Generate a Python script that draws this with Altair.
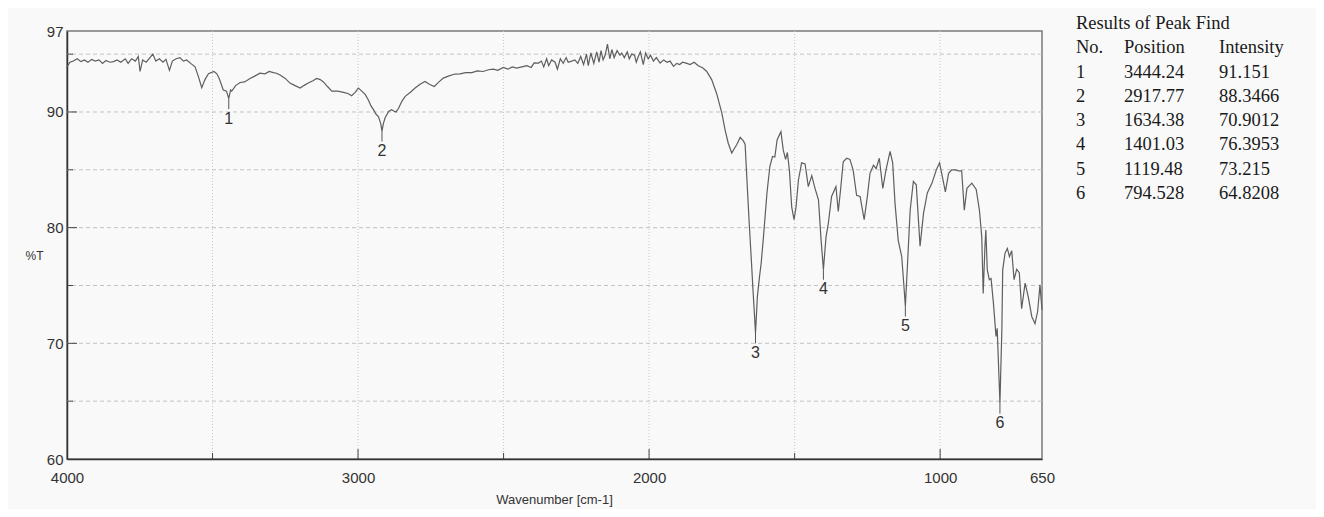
import altair as alt
import pandas as pd

# ---- spectrum ----
wavenumber = [
    4000, 3990, 3978, 3965, 3952, 3940, 3928, 3915, 3903, 3890,
    3878, 3866, 3853, 3840, 3828, 3815, 3800, 3790, 3778, 3765,
    3755, 3749, 3740, 3728, 3715, 3705, 3695, 3683, 3670, 3660,
    3648, 3638, 3625, 3612, 3600, 3589, 3575, 3560, 3549, 3537,
    3526, 3514, 3495, 3485, 3477, 3463, 3452, 3444.24, 3438, 3434,
    3420, 3405, 3390, 3371, 3355, 3337, 3320, 3305, 3291, 3280,
    3268, 3250, 3234, 3218, 3199, 3185, 3171, 3155, 3142, 3130,
    3119, 3105, 3090, 3070, 3050, 3035, 3022, 3010, 2999, 2987,
    2975, 2965, 2955, 2947, 2938, 2930, 2922, 2917.77, 2913, 2907,
    2895, 2885, 2879, 2870, 2861, 2850, 2838, 2820, 2804, 2787,
    2770, 2755, 2738, 2722, 2707, 2690, 2667, 2650, 2630, 2609,
    2590, 2570, 2552, 2535, 2520, 2501, 2485, 2470, 2455, 2437,
    2420, 2405, 2395, 2380, 2370, 2362, 2352, 2345, 2335, 2323,
    2315, 2305, 2295, 2285, 2278, 2266, 2255, 2245, 2235, 2225,
    2215, 2209, 2200, 2190, 2180, 2172, 2165, 2158, 2151, 2143,
    2135, 2128, 2120, 2110, 2100, 2094, 2085, 2075, 2068, 2060,
    2050, 2044, 2037, 2030, 2020, 2012, 2003, 1995, 1985, 1975,
    1962, 1950, 1938, 1928, 1916, 1905, 1895, 1885, 1870, 1859,
    1845, 1831, 1815, 1802, 1785, 1768, 1750, 1739, 1728, 1716,
    1708, 1699, 1687, 1676, 1670, 1665, 1656, 1648, 1643, 1638,
    1634.38, 1630, 1628, 1620, 1615, 1607, 1595, 1585, 1576, 1568,
    1560, 1547, 1539, 1531, 1525, 1518, 1510, 1502, 1495, 1487,
    1476, 1464, 1453, 1441, 1430, 1418, 1409, 1401.03, 1392, 1384,
    1373, 1358, 1350, 1342, 1333, 1321, 1310, 1299, 1287, 1275,
    1261, 1250, 1241, 1229, 1220, 1209, 1197, 1186, 1172, 1163,
    1155, 1144, 1132, 1126, 1119.48, 1112, 1103, 1092, 1082, 1069,
    1057, 1044, 1028, 1013, 1002, 990, 982, 971, 960, 948,
    936, 926, 917, 908, 891, 876, 865, 857, 852, 846,
    843, 838, 831, 825, 817, 808, 804, 794.528, 788, 785,
    777, 769, 762, 754, 746, 737, 728, 720, 708, 697,
    685, 674, 665, 657, 650,
]
transmittance = [
    93.9, 94.3, 94.4, 94.6, 94.35, 94.5, 94.3, 94.55, 94.4, 94.5,
    94.2, 94.45, 94.3, 94.35, 94.5, 94.3, 94.6, 94.2, 94.6, 94.4,
    94.8, 93.5, 94.5, 94.3, 94.7, 95.0, 94.4, 94.6, 94.3, 94.55,
    93.6, 94.4, 94.6, 94.7, 94.4, 94.5, 94.2, 93.9, 93.1, 92.1,
    92.8, 93.3, 93.5, 93.3, 92.9, 91.9, 91.8, 91.151, 91.9, 91.8,
    92.3, 92.55, 92.6, 92.9, 93.1, 93.35, 93.3, 93.5, 93.4, 93.35,
    93.2, 92.9, 92.5, 92.3, 92.07, 92.3, 92.5, 92.7, 92.9, 92.8,
    92.6, 92.2, 91.8, 91.8, 91.7, 91.6, 91.4, 91.7, 92.07, 91.8,
    91.5, 91.06, 90.5, 90.2, 89.8, 89.6, 89.0, 88.3466, 89.0, 89.5,
    90.05, 90.2, 90.1, 90.0, 90.3, 90.9, 91.35, 91.7, 92.07, 92.4,
    92.64, 92.4, 92.2, 92.6, 92.93, 93.1, 93.28, 93.3, 93.4, 93.4,
    93.55, 93.5, 93.65, 93.7, 93.6, 93.85, 93.7, 93.9, 93.8, 93.9,
    94.0, 93.85, 94.25, 94.23, 94.4, 93.9, 94.6, 94.0, 94.5, 94.3,
    93.7, 94.6, 94.2, 94.7, 94.3, 94.4, 94.5, 94.2, 94.8, 94.1,
    95.0, 94.0, 95.1, 94.2, 95.2, 94.3, 95.3, 94.5, 94.9, 95.87,
    94.6, 95.4, 94.7, 95.3, 94.9, 95.1, 94.7, 95.2, 94.6, 95.0,
    94.9, 94.3, 94.8, 95.2, 94.1, 95.1, 94.6, 94.9, 94.4, 94.7,
    94.23, 94.5, 94.3, 94.4, 93.94, 94.2, 94.1, 94.3, 94.2, 94.1,
    94.3, 94.0, 93.8, 93.5, 92.8, 91.6, 89.9, 88.46, 87.3, 86.45,
    86.8, 87.16, 87.8, 87.5, 87.2, 84.7, 80.4, 76.9, 74.6, 72.5,
    70.9012, 73.0, 74.04, 75.9, 76.9, 79.2, 83.0, 85.3, 86.15, 86.1,
    87.6, 88.3, 86.7, 85.9, 86.5, 85.0, 81.8, 80.7, 81.8, 84.1,
    85.6, 85.5, 83.55, 84.5, 83.4, 82.4, 78.9, 76.3953, 79.2, 80.4,
    82.7, 83.55, 81.4, 83.3, 85.7, 86.0, 85.9, 85.0, 82.8, 82.7,
    80.7, 82.7, 84.7, 85.4, 85.1, 86.0, 83.4, 85.0, 86.6, 85.6,
    82.1, 78.9, 77.5, 75.5, 73.215, 76.9, 81.5, 84.0, 83.7, 78.4,
    81.25, 83.0, 83.85, 85.0, 85.6, 84.1, 83.1, 84.7, 85.0, 85.0,
    84.9, 84.9, 81.5, 83.4, 83.85, 83.3, 81.5, 79.2, 74.3, 78.4,
    79.8, 76.35, 75.5, 75.6, 73.5, 70.6, 71.3, 64.8208, 71.1, 76.35,
    77.8, 78.2, 77.5, 78.0, 75.5, 76.4, 76.1, 73.0, 75.2, 74.0,
    72.3, 71.7, 72.75, 75.05, 72.9,
]

# ---- peak table ----
peak_no = ["1", "2", "3", "4", "5", "6"]
peak_position = [3444.24, 2917.77, 1634.38, 1401.03, 1119.48, 794.528]
peak_intensity = [91.151, 88.3466, 70.9012, 76.3953, 73.215, 64.8208]
peak_position_text = ["3444.24", "2917.77", "1634.38", "1401.03", "1119.48", "794.528"]
peak_intensity_text = ["91.151", "88.3466", "70.9012", "76.3953", "73.215", "64.8208"]
table_title = "Results of Peak Find"
table_headers = ["No.", "Position", "Intensity"]

# ---- axes ----
x_label_values = [4000, 3000, 2000, 1000, 650]
y_label_values = [60, 70, 80, 90, 97]
x_grid_values = [3500, 3000, 2500, 2000, 1500, 1000]
y_grid_values = [65, 70, 75, 80, 85, 90, 95]
x_major_ticks = [3000, 2000, 1000]
x_minor_ticks = [3500, 2500, 1500]
y_major_ticks = [70, 80, 90]
y_minor_ticks = [65, 75, 85, 95]

assert len(wavenumber) == len(transmittance)

W, H = 975, 428
SANS = "Liberation Sans"
SERIF = "Liberation Serif"

xs = alt.Scale(domain=[4000, 650], nice=False, zero=False)
ys = alt.Scale(domain=[60, 97], nice=False, zero=False)

spec_df = pd.DataFrame({"wn": wavenumber, "t": transmittance})
peaks_df = pd.DataFrame({"wn": peak_position, "t": peak_intensity, "no": peak_no})

x_axis = alt.Axis(values=x_label_values, grid=False, ticks=False, tickSize=0,
                  domainColor="#333333", domainWidth=1.5, format="d",
                  labelFont=SANS, labelFontSize=15, labelColor="#333333",
                  labelPadding=11, labelFlush=False, labelOverlap=False,
                  title="Wavenumber [cm-1]", titleFont=SANS, titleFontSize=13,
                  titleFontWeight="normal", titleColor="#333333",
                  titleX=487, titleY=40, titleAlign="center", titleBaseline="middle")
y_axis = alt.Axis(values=y_label_values, grid=False, ticks=False, tickSize=0,
                  domainColor="#333333", domainWidth=1.5,
                  labelFont=SANS, labelFontSize=15, labelColor="#333333",
                  labelPadding=4, labelOverlap=False,
                  title="%T", titleFont=SANS, titleFontSize=12,
                  titleFontWeight="normal", titleColor="#333333", titleAngle=0,
                  titleX=-33, titleY=224, titleAlign="center", titleBaseline="middle")


def X(field):
    return alt.X(field, scale=xs, axis=x_axis)


def Y(field):
    return alt.Y(field, scale=ys, axis=y_axis)


hgrid = alt.Chart(pd.DataFrame({"t": y_grid_values})).mark_rule(
    color="#c2c2c2", strokeDash=[4, 3], strokeWidth=1
).encode(y=Y("t:Q"))

vgrid = alt.Chart(pd.DataFrame({"wn": x_grid_values})).mark_rule(
    color="#c8c8c8", strokeDash=[1, 2], strokeWidth=1
).encode(x=X("wn:Q"))

ytick_major = alt.Chart(pd.DataFrame({"t": y_major_ticks})).mark_rule(
    color="#444444", strokeWidth=1
).encode(y=Y("t:Q"), x=alt.value(0), x2=alt.value(10))
ytick_minor = alt.Chart(pd.DataFrame({"t": y_minor_ticks})).mark_rule(
    color="#444444", strokeWidth=1
).encode(y=Y("t:Q"), x=alt.value(0), x2=alt.value(6))
xtick_major = alt.Chart(pd.DataFrame({"wn": x_major_ticks})).mark_rule(
    color="#444444", strokeWidth=1
).encode(x=X("wn:Q"), y=alt.value(H), y2=alt.value(H - 10))
xtick_minor = alt.Chart(pd.DataFrame({"wn": x_minor_ticks})).mark_rule(
    color="#444444", strokeWidth=1
).encode(x=X("wn:Q"), y=alt.value(H), y2=alt.value(H - 6))

line = alt.Chart(spec_df).mark_line(color="#5e5e5e", strokeWidth=1.2).encode(
    x=X("wn:Q"), y=Y("t:Q"),
)

peak_rules = alt.Chart(peaks_df).transform_calculate(t2="datum.t - 0.9").mark_rule(
    color="#555555", strokeWidth=1
).encode(x=X("wn:Q"), y=Y("t:Q"), y2="t2:Q")

peak_labels = alt.Chart(peaks_df).mark_text(
    font=SANS, fontSize=16, color="#333333", dy=20, baseline="middle", align="center"
).encode(x=X("wn:Q"), y=Y("t:Q"), text="no:N")

spectrum = alt.layer(hgrid, vgrid, ytick_major, ytick_minor, xtick_major, xtick_minor,
                     line, peak_rules, peak_labels)

# table: row 0 title, row 1 headers, rows 2..7 values
rows = list(range(8))
col1 = pd.DataFrame({"r": rows, "s": [table_title, table_headers[0]] + peak_no})
col2 = pd.DataFrame({"r": rows[1:], "s": [table_headers[1]] + peak_position_text})
col3 = pd.DataFrame({"r": rows[1:], "s": [table_headers[2]] + peak_intensity_text})
row_scale = alt.Scale(type="point", domain=rows, range=[-8, 162], padding=0)


def table_col(df, xpx):
    return alt.Chart(df).mark_text(
        font=SERIF, fontSize=18.5, color="#1a1a1a", align="left", baseline="middle"
    ).encode(x=alt.value(xpx), y=alt.Y("r:O", scale=row_scale, axis=None), text="s:N")


table = alt.layer(table_col(col1, 1009), table_col(col2, 1057), table_col(col3, 1152))

chart = alt.layer(spectrum, table).resolve_scale(y="independent").properties(
    width=W, height=H,
    autosize=alt.AutoSizeParams(type="none"),
    padding={"left": 59, "top": 23, "right": 274, "bottom": 50},
    background="#f9f9f9",
).configure_view(stroke="#7a7a7a", strokeWidth=1.5)

chart.save("out.html", embed_options={"renderer": "svg", "actions": False})
